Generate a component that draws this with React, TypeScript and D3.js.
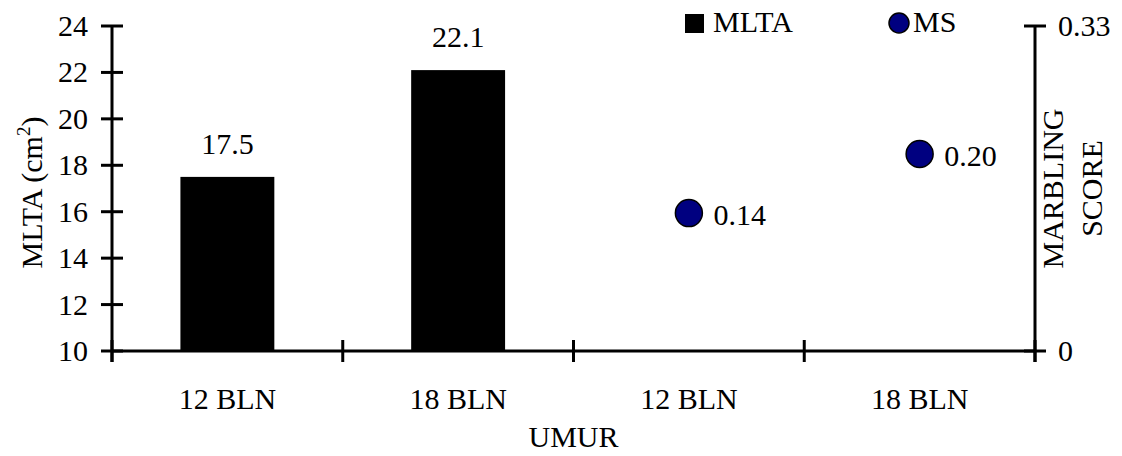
import React from "react";
import * as d3 from "d3";

const categories = ["12 BLN", "18 BLN", "12 BLN", "18 BLN"];
const mltaIndex = [0, 1];
const mltaValues = [17.5, 22.1];
const msIndex = [2, 3];
const msValues = [0.14, 0.2];
const leftTicks = [10, 12, 14, 16, 18, 20, 22, 24];
const rightTicks = [0, 0.33];

const W = 1122;
const H = 456;
const L = 112;
const R = 1035;
const T = 26;
const B = 351;
const FONT = "Liberation Serif";
const FS = 30;

export default function App() {
  const x = d3.scaleBand<number>().domain(categories.map((_, i) => i)).range([L, R]).padding(0);
  const yL = d3.scaleLinear().domain([10, 24]).range([B, T]);
  const yR = d3.scaleLinear().domain([0, 0.33]).range([B, T]);
  const bw = x.bandwidth();
  const barW = bw * 0.407;
  const boundaries = d3.range(categories.length + 1).map((i) => L + i * bw);
  const r = 13.5;
  const txt = { fontFamily: FONT, fontSize: FS, fill: "#000" } as React.CSSProperties;

  return (
    <svg
      width={W}
      height={H}
      viewBox={`0 0 ${W} ${H}`}
      style={{ position: "absolute", left: 0, top: 0, display: "block", background: "#fff" }}
    >
      <rect x={0} y={0} width={W} height={H} fill="#fff" />
      {/* Bars */}
      {mltaValues.map((v, i) => {
        const cx = (x(mltaIndex[i]) as number) + bw / 2;
        return (
          <g key={"b" + i}>
            <rect x={cx - barW / 2} y={yL(v)} width={barW} height={B - yL(v)} fill="#000" />
            <text style={txt} x={cx} y={yL(v) - 23} textAnchor="middle">
              {v.toFixed(1)}
            </text>
          </g>
        );
      })}
      {/* Points */}
      {msValues.map((v, i) => {
        const cx = (x(msIndex[i]) as number) + bw / 2;
        const cy = yR(v);
        return (
          <g key={"p" + i}>
            <circle cx={cx} cy={cy} r={r} fill="#000080" stroke="#000" strokeWidth={1.5} />
            <text style={txt} x={cx + r + 11} y={cy + 12}>
              {v.toFixed(2)}
            </text>
          </g>
        );
      })}
      {/* Left axis */}
      <line x1={L} x2={L} y1={T} y2={B + 11} stroke="#000" strokeWidth={3} />
      {leftTicks.map((t) => (
        <g key={"lt" + t}>
          <line x1={L - 11} x2={L + 11} y1={yL(t)} y2={yL(t)} stroke="#000" strokeWidth={3} />
          <text style={txt} x={L - 24} y={yL(t) + 10} textAnchor="end">
            {t}
          </text>
        </g>
      ))}
      {/* Right axis */}
      <line x1={R} x2={R} y1={T} y2={B + 11} stroke="#000" strokeWidth={3} />
      {rightTicks.map((t) => (
        <g key={"rt" + t}>
          <line x1={R - 11} x2={R + 11} y1={yR(t)} y2={yR(t)} stroke="#000" strokeWidth={3} />
          <text style={txt} x={R + 23} y={yR(t) + 10} textAnchor="start">
            {t === 0 ? "0" : t.toFixed(2)}
          </text>
        </g>
      ))}
      {/* Bottom axis */}
      <line x1={L} x2={R} y1={B} y2={B} stroke="#000" strokeWidth={3} />
      {boundaries.map((bx, i) => (
        <line key={"bt" + i} x1={bx} x2={bx} y1={B - 11} y2={B + 11} stroke="#000" strokeWidth={3} />
      ))}
      {categories.map((c, i) => (
        <text style={txt} key={"c" + i} x={(x(i) as number) + bw / 2} y={409} textAnchor="middle">
          {c}
        </text>
      ))}
      <text style={txt} x={(L + R) / 2} y={447} textAnchor="middle">
        UMUR
      </text>
      {/* Left axis title */}
      <text style={txt} transform={`translate(42, ${(T + B) / 2 + 4}) rotate(-90)`} textAnchor="middle">
        MLTA (cm
        <tspan style={{ fontSize: 19 }} dy={-12}>2</tspan>
        <tspan dy={12}>)</tspan>
      </text>
      {/* Right axis title */}
      <text style={txt} transform={`translate(1063, ${(T + B) / 2}) rotate(-90)`} textAnchor="middle">
        <tspan x={0} dy={0}>MARBLING</tspan>
        <tspan x={0} dy={39}>SCORE</tspan>
      </text>
      {/* Legend */}
      <rect x={685} y={14} width={19} height={19} fill="#000" />
      <text style={txt} x={713} y={32}>MLTA</text>
      <circle cx={899} cy={23} r={10} fill="#000080" stroke="#000" strokeWidth={1.5} />
      <text style={txt} x={913} y={32}>MS</text>
    </svg>
  );
}
